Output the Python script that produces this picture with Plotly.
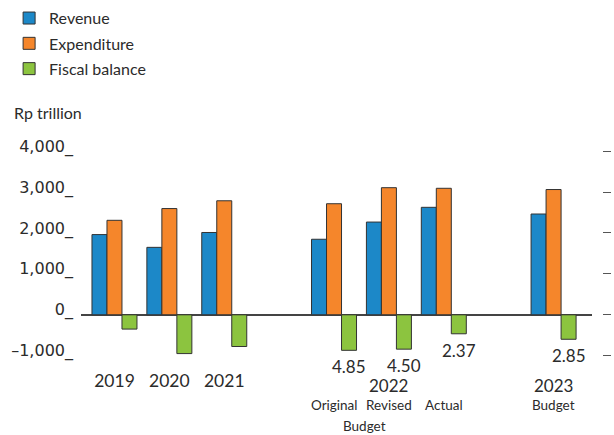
import plotly.graph_objects as go

# ---- data ----
categories = ["2019", "2020", "2021", " ", "Original", "Revised", "Actual", "  ", "2023"]
year_labels = ["2019", "2020", "2021", "", "", "", "", "", ""]
period_labels = ["", "", "", "", "", "2022", "", "", "2023"]
revenue = [1960, 1648, 2011, None, 1846, 2266, 2626, None, 2463]
expenditure = [2309, 2596, 2786, None, 2714, 3106, 3091, None, 3061]
balance = [-349, -948, -775, None, -868, -840, -464, None, -598]
deficit_pct = ["", "", "", "", "4.85", "4.50", "2.37", "", "2.85"]
sub_labels = ["", "", "", "", "Original", "Revised", "Actual", "", "Budget"]
sub_labels2 = ["", "", "", "", "Budget", "", "", "", ""]
y_ticks = [-1000, 0, 1000, 2000, 3000, 4000]
y_tick_text = ["\u20131,000_", "0_", "1,000_", "2,000_", "3,000_", "4,000_"]

C_REV = "#1c88c8"
C_EXP = "#f5862b"
C_BAL = "#8cc43f"
TXT = "#2b2b2b"
LINE = "#333333"

fig = go.Figure()
for name, vals, col, grp in [("Revenue", revenue, C_REV, "a"),
                             ("Expenditure", expenditure, C_EXP, "b"),
                             ("Fiscal balance", balance, C_BAL, "c")]:
    fig.add_trace(go.Bar(x=categories, y=vals, name=name, legendgroup=grp,
                         marker=dict(color=col, line=dict(color=LINE, width=1))))
# carrier for the right-hand tick axis (draws nothing)
fig.add_trace(go.Scatter(x=categories, y=[None] * len(categories), yaxis="y2",
                         showlegend=False, hoverinfo="skip", mode="lines"))

annotations = []
# category positions by index (category names like "2023" would otherwise be read as numbers)
for i, (v, t) in enumerate(zip(balance, deficit_pct)):
    if t:
        annotations.append(dict(x=i, y=v, xref="x", yref="y", text=t, showarrow=False,
                                xshift=15, yshift=-4, yanchor="top",
                                font=dict(family="Lato", size=17, color=TXT)))
for i, t in enumerate(period_labels):
    if t:
        annotations.append(dict(x=i, y=0, xref="x", yref="paper", text=t, showarrow=False,
                                yshift=-17, yanchor="middle",
                                font=dict(family="Lato", size=17, color=TXT)))
for i, t in enumerate(sub_labels):
    if t:
        annotations.append(dict(x=i, y=0, xref="x", yref="paper", text=t, showarrow=False,
                                yshift=-37, yanchor="middle",
                                font=dict(family="Lato", size=13.5, color=TXT)))
for i, t in enumerate(sub_labels2):
    if t:
        annotations.append(dict(x=i, y=0, xref="x", yref="paper", text=t, showarrow=False,
                                xshift=30, yshift=-58, yanchor="middle",
                                font=dict(family="Lato", size=13.5, color=TXT)))
annotations.append(dict(x=-0.1324, y=1.154, xref="paper", yref="paper", text="Rp trillion",
                        showarrow=False, xanchor="left", yanchor="middle",
                        font=dict(family="Lato", size=16, color=TXT)))

fig.update_layout(
    width=614, height=435,
    margin=dict(l=81, r=12, t=147, b=67, autoexpand=False),
    paper_bgcolor="white", plot_bgcolor="white",
    barmode="group", bargap=0.18, bargroupgap=0,
    showlegend=True,
    legend=dict(x=-0.138, y=1.66, xanchor="left", yanchor="top",
                font=dict(family="Lato", size=16, color=TXT),
                bgcolor="rgba(0,0,0,0)", tracegroupgap=1.5),
    xaxis=dict(domain=[0, 0.9808], range=[-0.61, 8.70], type="category",
               tickmode="array", tickvals=categories, ticktext=year_labels,
               showgrid=False, showline=False, ticks="", zeroline=False,
               tickfont=dict(family="Lato", size=17.5, color=TXT)),
    yaxis=dict(range=[-1300, 4100], tickmode="array", tickvals=y_ticks, ticktext=y_tick_text,
               showgrid=False, showline=False, ticks="",
               zeroline=True, zerolinecolor="#444444", zerolinewidth=1.5,
               ticklabelshift=-5, ticklabelstandoff=7,
               tickfont=dict(family="DejaVu Sans", size=16, color=TXT)),
    yaxis2=dict(range=[-1300, 4100], overlaying="y", side="right", anchor="free", position=1,
                tickmode="array", tickvals=y_ticks, showticklabels=False,
                ticks="outside", ticklen=8, tickwidth=1.3, tickcolor="#555555",
                showgrid=False, showline=False, zeroline=False),
    annotations=annotations,
)

fig.write_html("out.html")
